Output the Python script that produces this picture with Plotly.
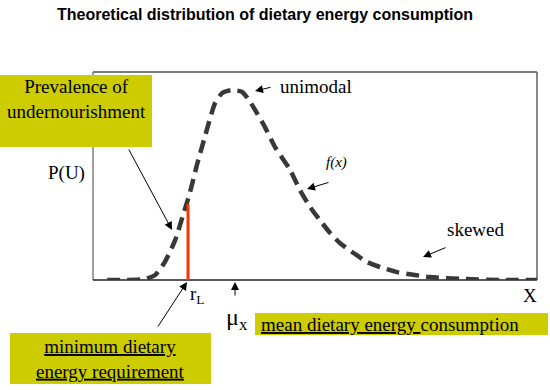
import plotly.graph_objects as go

# ---- data (x: dietary energy, relative units 0-100; y: density, relative 0-1) ----
energy = [3.2, 6.1, 11.7, 14.0, 16.2, 18.5, 20.3, 21.8, 23.4, 24.8, 26.4, 27.5, 29.1,
          31.3, 33.6, 35.4, 36.9, 38.7, 41.0, 44.4, 46.6, 48.9, 51.1, 53.4, 55.6,
          59.0, 61.7, 64.6, 68.5, 72.5, 75.9, 83.3, 91.7, 100.0]
density = [0.0, 0.0, 0.005, 0.024, 0.087, 0.192, 0.313, 0.418, 0.553, 0.659, 0.779,
           0.851, 0.899, 0.913, 0.904, 0.856, 0.803, 0.736, 0.639, 0.529, 0.433,
           0.351, 0.288, 0.226, 0.178, 0.125, 0.087, 0.0625, 0.038, 0.024, 0.014,
           0.005, 0.0, 0.0]
r_L = 21.4          # minimum dietary energy requirement
r_L_height = 0.365  # height of the red marker line
mu_x = 31.8         # mean dietary energy consumption

W, H = 550, 390
L, R, T, B = 93, 13, 72, 110
PW, PH = W - L - R, H - T - B

def px(x):
    return (x - L) / PW

def py(y):
    return (H - B - y) / PH

SERIF = "Liberation Serif"
SANS = "Liberation Sans"
BOX = "#cccc00"

fig = go.Figure()
fig.add_trace(go.Scatter(
    x=energy, y=density, mode="lines",
    line=dict(color="#383838", width=4.5, dash="13px,7px", shape="spline", smoothing=0.6),
    hoverinfo="skip", showlegend=False))
fig.add_trace(go.Scatter(
    x=[r_L, r_L], y=[0, r_L_height], mode="lines",
    line=dict(color="#ff3300", width=3), hoverinfo="skip", showlegend=False))

shapes = [
    # frame
    dict(type="line", xref="paper", yref="paper", x0=0, x1=0, y0=0, y1=1, line=dict(color="#808080", width=1.5), layer="below"),
    dict(type="line", xref="paper", yref="paper", x0=0, x1=1, y0=1, y1=1, line=dict(color="#505050", width=1.5), layer="below"),
    dict(type="line", xref="paper", yref="paper", x0=1, x1=1, y0=0, y1=1, line=dict(color="#606060", width=1.5), layer="below"),
    dict(type="line", xref="paper", yref="paper", x0=0, x1=1, y0=0, y1=0, line=dict(color="#202020", width=1.5), layer="below"),
    # yellow boxes
    dict(type="rect", xref="paper", yref="paper", x0=px(0), x1=px(152), y0=py(147), y1=py(75),
         fillcolor=BOX, line=dict(width=0), layer="above"),
    dict(type="rect", xref="paper", yref="paper", x0=px(10), x1=px(211), y0=py(384), y1=py(333),
         fillcolor=BOX, line=dict(width=0), layer="above"),
    dict(type="rect", xref="paper", yref="paper", x0=px(255), x1=px(548), y0=py(335), y1=py(313),
         fillcolor=BOX, line=dict(width=0), layer="above"),
]

ann = []
def text(t, x, y, size=19, xanchor="center", family=SERIF, **kw):
    ann.append(dict(text=t, x=px(x), y=py(y), xref="paper", yref="paper", showarrow=False,
                    xanchor=xanchor, yanchor="middle", font=dict(family=family, size=size, color="black"), **kw))

def arrow(x_head, y_head, x_tail, y_tail):
    ann.append(dict(text="", x=px(x_head), y=py(y_head), xref="paper", yref="paper",
                    ax=x_tail - x_head, ay=y_tail - y_head, showarrow=True,
                    arrowhead=2, arrowsize=1.6, arrowwidth=1, arrowcolor="black", standoff=0, startstandoff=0))

text("<b>Theoretical distribution of dietary energy consumption</b>", 265, 14, size=16, family=SANS)
text("Prevalence of<br>undernourishment", 76, 99, align="center")
text("P(U)", 66, 173)
text("unimodal", 278, 86, xanchor="left")
text("<i>f(x)</i>", 336, 162, size=15)
text("skewed", 445, 229, xanchor="left")
text("X", 530, 295)
text("r<sub>L</sub>", 188, 295, xanchor="left")
text("μ<sub>x</sub>", 237, 319, size=24)
text("<u>mean dietary energy </u>consumption", 259, 324, xanchor="left")
text("<u>minimum dietary</u><br><u>energy requirement</u>", 110, 359, align="center")

arrow(172, 230, 128, 148)
arrow(255, 91, 272, 87)
arrow(307, 189, 330, 182)
arrow(423, 257, 447, 247)
arrow(187, 282, 157, 328)
arrow(235, 282, 235, 297)

fig.update_layout(
    width=W, height=H, margin=dict(l=L, r=R, t=T, b=B),
    paper_bgcolor="white", plot_bgcolor="white",
    xaxis=dict(range=[0, 100], visible=False, fixedrange=True),
    yaxis=dict(range=[0, 1], visible=False, fixedrange=True),
    shapes=shapes, annotations=ann, showlegend=False,
)

fig.write_html("out.html", config={"displayModeBar": False},
               post_script="document.body.style.margin='0';document.body.style.overflow='hidden';")
